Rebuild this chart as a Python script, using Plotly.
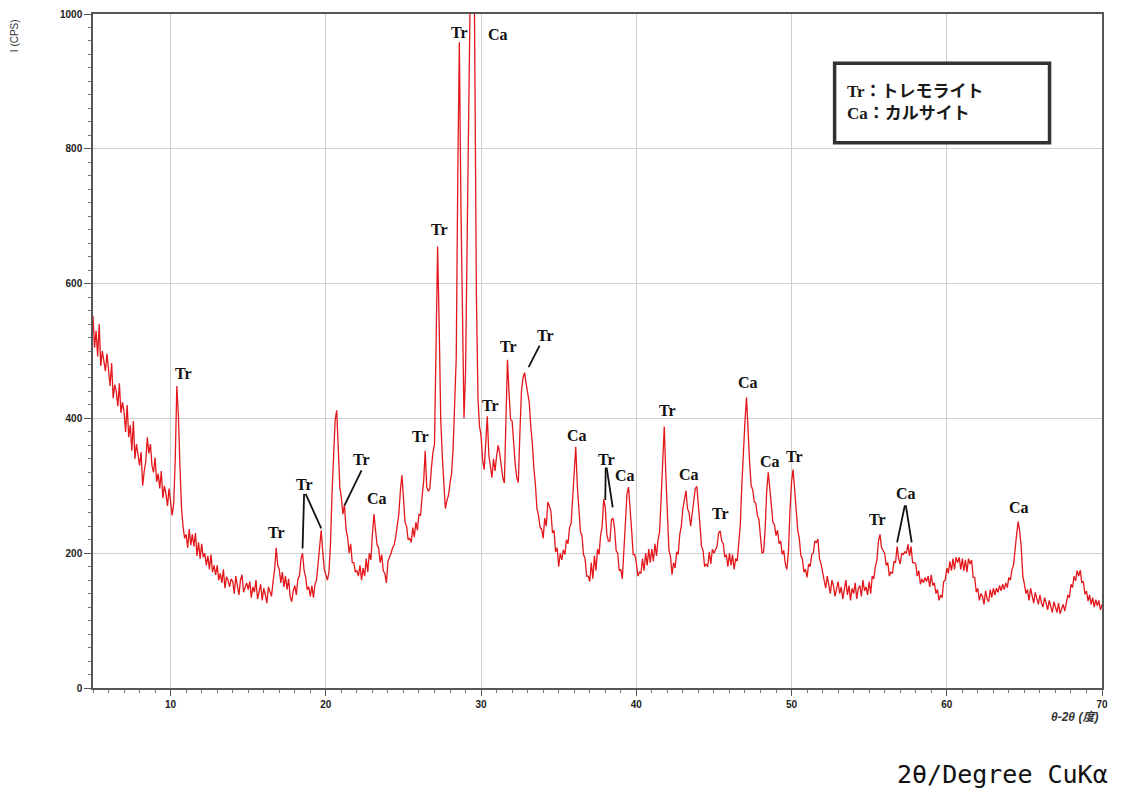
import plotly.graph_objects as go

# ---------------- data ----------------
SCAN_START = 5.0      # 2theta start (deg)
SCAN_STEP = 0.1       # 2theta step (deg)

# intensity (CPS), one row per degree: 5.0..5.9, 6.0..6.9, ... , 69.0..69.9, then 70.0
I_rows = [
    [552, 505, 530, 492, 540, 478, 500, 486, 470, 496],   # 5
    [470, 448, 482, 430, 450, 440, 418, 452, 408, 424],   # 6
    [410, 380, 420, 372, 390, 352, 396, 340, 362, 348],   # 7
    [330, 350, 300, 322, 336, 372, 348, 362, 330, 320],   # 8
    [342, 306, 318, 296, 322, 282, 300, 288, 270, 296],   # 9
    [276, 256, 274, 340, 448, 405, 330, 268, 240, 222],   # 10
    [228, 208, 236, 212, 228, 210, 230, 196, 216, 192],   # 11
    [214, 194, 200, 182, 196, 176, 198, 172, 182, 168],   # 12
    [182, 160, 170, 156, 176, 148, 165, 160, 150, 162],   # 13
    [158, 140, 166, 150, 138, 160, 168, 142, 150, 156],   # 14
    [146, 158, 134, 150, 142, 160, 132, 146, 154, 130],   # 15
    [148, 138, 126, 150, 144, 136, 158, 176, 208, 182],   # 16
    [176, 156, 172, 150, 166, 146, 162, 136, 128, 144],   # 17
    [152, 138, 162, 166, 192, 200, 174, 164, 146, 150],   # 18
    [136, 152, 134, 154, 160, 188, 212, 234, 202, 176],   # 19
    [168, 160, 172, 215, 290, 360, 398, 412, 360, 298],   # 20
    [282, 258, 272, 236, 224, 200, 214, 186, 186, 172],   # 21
    [174, 166, 182, 160, 178, 166, 192, 172, 200, 190],   # 22
    [228, 258, 234, 212, 208, 186, 198, 174, 170, 156],   # 23
    [188, 196, 200, 208, 212, 224, 244, 258, 292, 316],   # 24
    [282, 246, 240, 220, 222, 216, 238, 224, 246, 234],   # 25
    [258, 256, 284, 306, 352, 298, 292, 296, 326, 350],   # 26
    [362, 520, 655, 540, 400, 345, 304, 266, 278, 286],   # 27
    [304, 318, 356, 410, 490, 760, 958, 720, 520, 400],   # 28
    [470, 660, 880, 1080, 1220, 1260, 920, 580, 430, 388],  # 29
    [374, 338, 324, 362, 403, 346, 332, 312, 340, 322],   # 30
    [344, 360, 348, 326, 312, 304, 400, 487, 438, 398],   # 31
    [396, 356, 332, 312, 305, 378, 440, 460, 468, 452],   # 32
    [438, 424, 388, 364, 326, 302, 266, 256, 238, 236],   # 33
    [222, 252, 240, 276, 270, 262, 230, 234, 202, 208],   # 34
    [180, 200, 190, 205, 198, 220, 214, 238, 244, 284],   # 35
    [314, 358, 300, 270, 232, 226, 198, 192, 166, 166],   # 36
    [158, 186, 162, 196, 174, 206, 198, 226, 240, 280],   # 37
    [268, 228, 218, 218, 250, 252, 236, 204, 200, 174],   # 38
    [176, 162, 210, 246, 288, 298, 258, 234, 198, 198],   # 39
    [186, 166, 172, 170, 192, 174, 200, 182, 206, 186],   # 40
    [206, 188, 214, 196, 220, 232, 282, 345, 388, 318],   # 41
    [254, 204, 196, 168, 186, 178, 202, 198, 228, 240],   # 42
    [266, 282, 293, 266, 260, 240, 262, 274, 296, 299],   # 43
    [262, 242, 210, 204, 180, 184, 180, 202, 184, 206],   # 44
    [200, 204, 210, 230, 233, 218, 214, 194, 198, 180],   # 45
    [200, 182, 198, 176, 192, 188, 220, 242, 302, 358],   # 46
    [396, 431, 368, 334, 300, 294, 276, 274, 256, 250],   # 47
    [224, 200, 202, 236, 292, 320, 296, 274, 246, 242],   # 48
    [226, 234, 214, 218, 198, 204, 184, 176, 202, 264],   # 49
    [306, 324, 292, 266, 234, 222, 196, 192, 172, 176],   # 50
    [164, 184, 180, 198, 200, 218, 216, 221, 192, 184],   # 51
    [170, 156, 148, 166, 150, 140, 160, 152, 136, 150],   # 52
    [158, 140, 150, 132, 146, 160, 138, 152, 130, 148],   # 53
    [140, 156, 132, 148, 152, 136, 160, 144, 150, 138],   # 54
    [158, 140, 166, 162, 180, 190, 218, 228, 208, 204],   # 55
    [200, 182, 186, 166, 172, 170, 188, 186, 210, 192],   # 56
    [184, 200, 198, 202, 200, 213, 196, 210, 186, 186],   # 57
    [184, 166, 174, 154, 162, 156, 164, 158, 166, 150],   # 58
    [168, 152, 156, 140, 146, 130, 138, 134, 158, 160],   # 59
    [178, 170, 188, 174, 192, 176, 194, 186, 194, 176],   # 60
    [192, 174, 190, 172, 192, 184, 190, 164, 164, 142],   # 61
    [148, 130, 140, 136, 124, 144, 132, 128, 146, 134],   # 62
    [148, 138, 148, 142, 152, 144, 154, 146, 156, 149],   # 63
    [164, 160, 176, 182, 208, 228, 247, 232, 208, 166],   # 64
    [154, 140, 146, 130, 148, 138, 126, 142, 132, 124],   # 65
    [138, 126, 120, 134, 126, 116, 130, 122, 112, 128],   # 66
    [120, 112, 126, 110, 118, 124, 114, 128, 138, 134],   # 67
    [154, 149, 166, 159, 174, 166, 175, 156, 158, 139],   # 68
    [144, 129, 138, 124, 134, 120, 131, 122, 130, 116],   # 69
    [124],                                                # 70.0
]

# peak labels: text, label position (2theta, CPS)
label_text = ["Tr", "Tr", "Tr", "Tr", "Ca", "Tr", "Tr", "Tr", "Ca", "Tr", "Tr", "Tr",
              "Ca", "Tr", "Ca", "Tr", "Ca", "Tr", "Ca", "Ca", "Tr", "Tr", "Ca", "Ca"]
label_x = [10.85, 16.83, 18.63, 22.3, 23.3, 26.1, 27.33, 28.62, 31.07, 30.6, 31.77, 34.15,
           36.16, 38.1, 39.28, 42.0, 43.37, 45.45, 47.2, 48.6, 50.2, 55.55, 57.36, 64.66]
label_y = [467, 230, 302, 339, 281, 373, 680, 972, 970, 419, 507, 523,
           375, 339, 316, 412, 317, 259, 453, 336, 344, 250, 289, 268]

# leader lines: (x0, y0, x1, y1) in data units
leaders = [
    (18.6, 288, 18.5, 207), (18.7, 288, 19.7, 237),
    (22.3, 323, 21.2, 271),
    (33.77, 508, 33.06, 476),
    (38.03, 327, 38.0, 279), (38.09, 327, 38.48, 268),
    (57.3, 271, 56.8, 216), (57.36, 271, 57.74, 216),
]

legend_lines = ["Tr：トレモライト", "Ca：カルサイト"]

# ---------------- figure ----------------
intensity = [v for row in I_rows for v in row]
two_theta = [round(SCAN_START + SCAN_STEP * i, 1) for i in range(len(intensity))]

fig = go.Figure()
fig.add_trace(go.Scatter(
    x=two_theta, y=intensity, mode="lines",
    line=dict(color="#e2181c", width=1.3),
    hoverinfo="skip", showlegend=False,
))

annotations = []
for t, x, y in zip(label_text, label_x, label_y):
    annotations.append(dict(
        x=x, y=y, xref="x", yref="y", text="<b>" + t + "</b>", showarrow=False,
        font=dict(family="Liberation Serif", size=16, color="#111"),
        xanchor="center", yanchor="middle",
    ))

shapes = []
for (x0, y0, x1, y1) in leaders:
    shapes.append(dict(type="line", xref="x", yref="y", x0=x0, y0=y0, x1=x1, y1=y1,
                       line=dict(color="#111", width=1.8)))

# legend box
shapes.append(dict(type="rect", xref="paper", yref="paper",
                   x0=0.735, x1=0.948, y0=0.809, y1=0.927,
                   line=dict(color="#333", width=3.5), fillcolor="white", layer="above"))
annotations.append(dict(
    xref="paper", yref="paper", x=0.745, y=0.868, xanchor="left", yanchor="middle",
    text="<b>" + "<br>".join(legend_lines) + "</b>", showarrow=False, align="left",
    font=dict(family="Liberation Serif, Noto Sans CJK JP", size=17, color="#1a1a1a"),
))

# axis captions
annotations.append(dict(
    xref="paper", yref="paper", x=-0.077, y=0.995, xanchor="center", yanchor="top",
    text="I (CPS)", textangle=-90, showarrow=False,
    font=dict(family="Liberation Sans", size=10, color="#333"),
))
annotations.append(dict(
    xref="paper", yref="paper", x=0.998, y=-0.043, xanchor="right", yanchor="middle",
    text="<b><i>θ-2θ (度)</i></b>", showarrow=False,
    font=dict(family="Liberation Sans, Noto Sans CJK JP", size=12, color="#333"),
))
annotations.append(dict(
    xref="paper", yref="paper", x=1.008, y=-0.129, xanchor="right", yanchor="middle",
    text="2θ/Degree CuKα", showarrow=False,
    font=dict(family="DejaVu Sans Mono", size=25, color="#111"),
))

# page body has an 8px margin: size the figure so the plot lands on the reference pixels
fig.update_layout(
    width=1121, height=785,
    margin=dict(l=85, r=27, t=6, b=105),
    paper_bgcolor="white", plot_bgcolor="white",
    showlegend=False,
    annotations=annotations, shapes=shapes,
    xaxis=dict(
        range=[5, 70], tickmode="array", tickvals=[10, 20, 30, 40, 50, 60, 70],
        ticks="outside", ticklen=6, tickcolor="#555", automargin=False,
        showgrid=True, gridcolor="#cfcfcf", gridwidth=1,
        showline=True, linecolor="#555", linewidth=1.5, mirror=True,
        zeroline=False,
        tickfont=dict(family="Liberation Sans", size=10, color="#222", weight="bold"),
        minor=dict(dtick=1, tick0=5, ticks="outside", ticklen=3, tickcolor="#777", showgrid=False),
    ),
    yaxis=dict(
        range=[0, 1000], tickmode="array", tickvals=[0, 200, 400, 600, 800, 1000],
        ticks="outside", ticklen=7, tickcolor="#555", automargin=False,
        showgrid=True, gridcolor="#cfcfcf", gridwidth=1,
        showline=True, linecolor="#555", linewidth=1.5, mirror=True,
        zeroline=False,
        tickfont=dict(family="Liberation Sans", size=10, color="#222", weight="bold"),
        minor=dict(dtick=20, ticks="outside", ticklen=3, tickcolor="#777", showgrid=False),
    ),
)

fig.write_html("out.html")
